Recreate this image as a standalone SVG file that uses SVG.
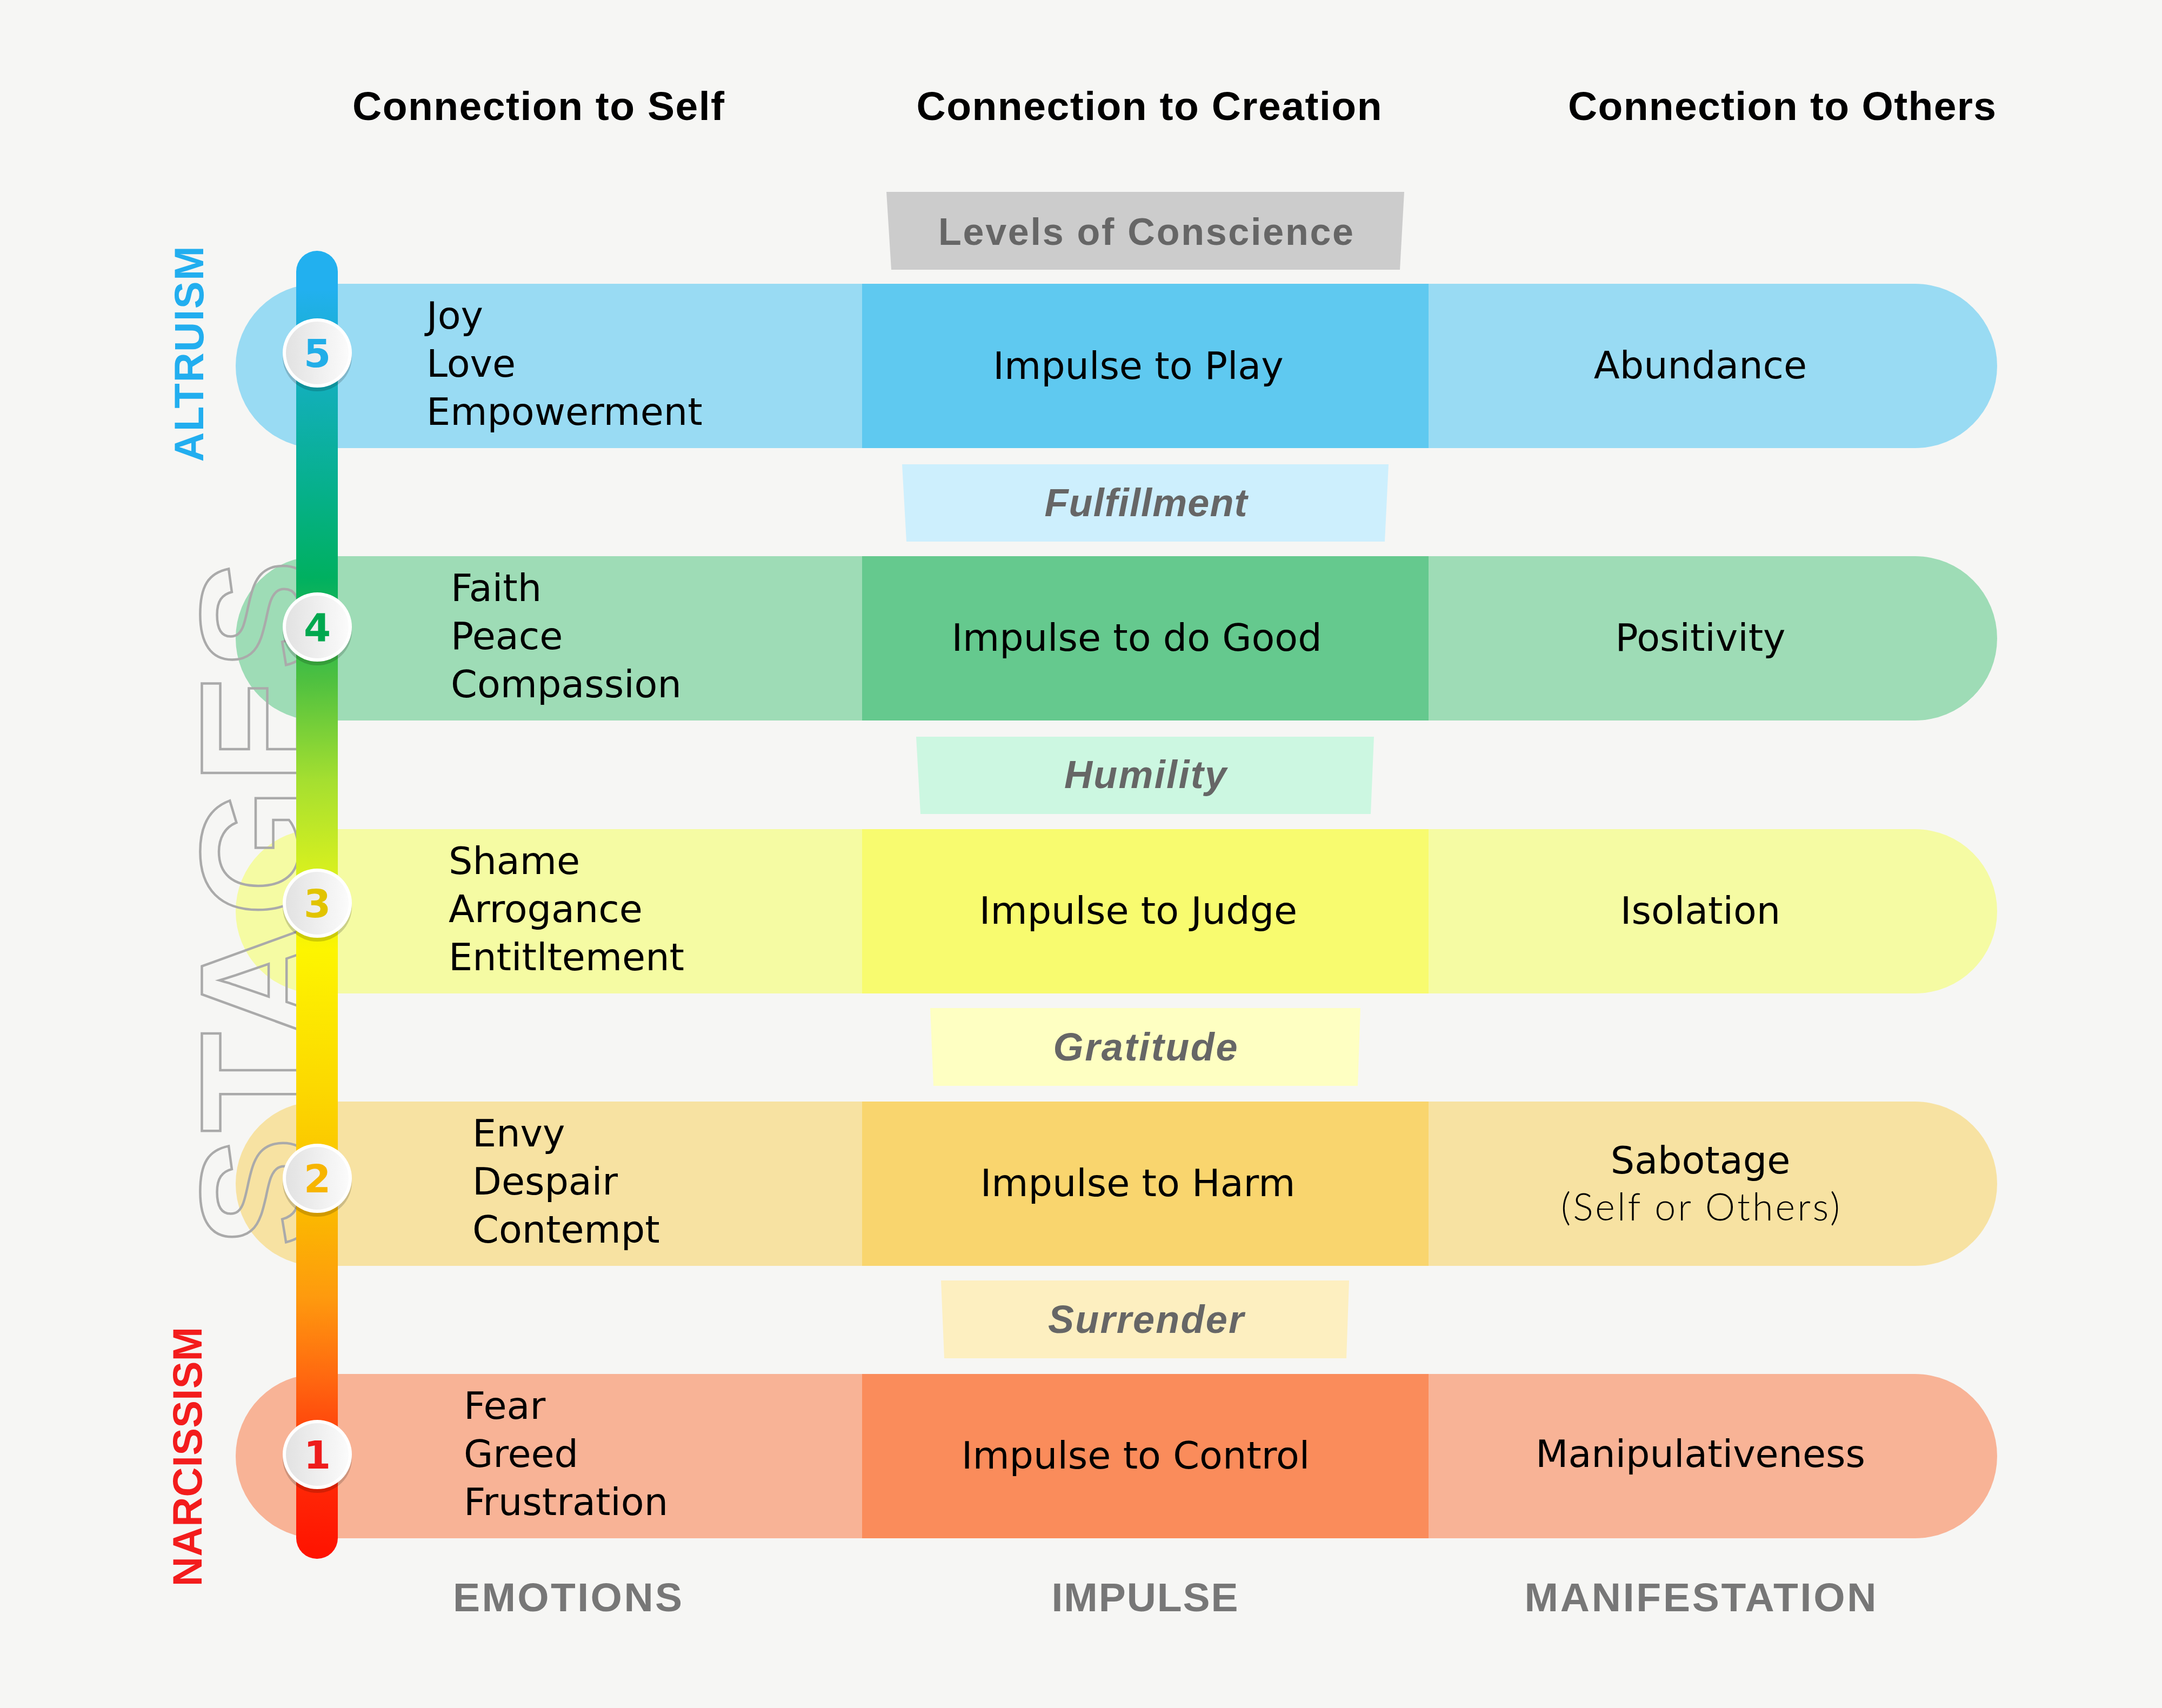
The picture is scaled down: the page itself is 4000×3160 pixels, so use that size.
<svg xmlns="http://www.w3.org/2000/svg" width="4000" height="3160" viewBox="0 0 4000 3160">
<defs>
<style>
.hdr{font-family:"Liberation Sans",Arial,sans-serif;font-weight:bold;font-size:75px;fill:#000;text-anchor:middle}
.foot{font-family:"Liberation Sans",Arial,sans-serif;font-weight:bold;font-size:75px;fill:#777;text-anchor:middle}
.body{font-family:"DejaVu Sans",sans-serif;font-size:70px;fill:#000}
.mid{font-family:"DejaVu Sans",sans-serif;font-size:70px;fill:#000;text-anchor:middle}
.light{font-family:"Lato","Roboto","DejaVu Sans",sans-serif;font-weight:300;font-size:70px;fill:#000;text-anchor:middle}
.ban{font-family:"Liberation Sans",Arial,sans-serif;font-weight:bold;font-style:italic;font-size:72px;fill:#666;text-anchor:middle}
.lvl{font-family:"Liberation Sans",Arial,sans-serif;font-weight:bold;font-size:70px;fill:#666;text-anchor:middle}
.side{font-family:"Liberation Sans",Arial,sans-serif;font-weight:bold;font-size:76px;text-anchor:middle}
.stages{font-family:"Liberation Sans",Arial,sans-serif;font-weight:bold;font-size:306px;fill:none;stroke:#aaaaaa;stroke-width:4.5;text-anchor:middle}
.num{font-family:"DejaVu Sans",sans-serif;font-weight:bold;font-size:72px;text-anchor:middle}
.shadow{fill:#000;opacity:0.17}
.ring{fill:#ffffff}
.face{fill:url(#faceGrad)}
</style>
<linearGradient id="barGrad" x1="0" y1="464" x2="0" y2="2884" gradientUnits="userSpaceOnUse">
<stop offset="0" stop-color="#22b0ef"/>
<stop offset="0.03" stop-color="#22b0ef"/>
<stop offset="0.107" stop-color="#12afb8"/>
<stop offset="0.185" stop-color="#06b08a"/>
<stop offset="0.25" stop-color="#00b060"/>
<stop offset="0.327" stop-color="#4dc040"/>
<stop offset="0.405" stop-color="#a5df30"/>
<stop offset="0.47" stop-color="#d4ef20"/>
<stop offset="0.535" stop-color="#fdf500"/>
<stop offset="0.638" stop-color="#fcd900"/>
<stop offset="0.735" stop-color="#fbb900"/>
<stop offset="0.80" stop-color="#fe9a0e"/>
<stop offset="0.865" stop-color="#ff6510"/>
<stop offset="0.93" stop-color="#ff2d08"/>
<stop offset="1" stop-color="#ff1200"/>
</linearGradient>
<linearGradient id="faceGrad" x1="0" y1="0" x2="1" y2="0">
<stop offset="0" stop-color="#e2e2e2"/>
<stop offset="1" stop-color="#fbfbfb"/>
</linearGradient>
</defs>
<rect x="0" y="0" width="4000" height="3160" fill="#f6f6f4"/>

<g id="headers">
<text class="hdr" x="996" y="222" textLength="688">Connection to Self</text>
<text class="hdr" x="2126" y="222" textLength="861">Connection to Creation</text>
<text class="hdr" x="3297" y="222" textLength="792">Connection to Others</text>
</g>

<g id="row5">
<rect x="436" y="525" width="3259" height="304" rx="152" fill="#99dbf3"/>
<rect x="1595" y="525" width="1048" height="304" fill="#5fc9f0"/>
<text class="body" x="789" y="608">Joy</text>
<text class="body" x="789" y="697">Love</text>
<text class="body" x="789" y="786">Empowerment</text>
<text class="mid" x="2106" y="701">Impulse to Play</text>
<text class="mid" x="3146" y="700">Abundance</text>
</g>
<g id="row4">
<rect x="436" y="1029" width="3259" height="304" rx="152" fill="#9edcb6"/>
<rect x="1595" y="1029" width="1048" height="304" fill="#65c98e"/>
<text class="body" x="834" y="1112">Faith</text>
<text class="body" x="834" y="1201">Peace</text>
<text class="body" x="834" y="1290">Compassion</text>
<text class="mid" x="2103" y="1204">Impulse to do Good</text>
<text class="mid" x="3146" y="1204">Positivity</text>
</g>
<g id="row3">
<rect x="436" y="1534" width="3259" height="304" rx="152" fill="#f5fba3"/>
<rect x="1595" y="1534" width="1048" height="304" fill="#f8fb6f"/>
<text class="body" x="830" y="1617">Shame</text>
<text class="body" x="830" y="1706">Arrogance</text>
<text class="body" x="830" y="1795">Entitltement</text>
<text class="mid" x="2106" y="1709">Impulse to Judge</text>
<text class="mid" x="3146" y="1709">Isolation</text>
</g>
<g id="row2">
<rect x="436" y="2038" width="3259" height="304" rx="152" fill="#f7e2a2"/>
<rect x="1595" y="2038" width="1048" height="304" fill="#f9d56e"/>
<text class="body" x="874" y="2121">Envy</text>
<text class="body" x="874" y="2210">Despair</text>
<text class="body" x="874" y="2299">Contempt</text>
<text class="mid" x="2105" y="2213">Impulse to Harm</text>
<text class="mid" x="3146" y="2171">Sabotage</text>
<text class="light" x="3146" y="2258" textLength="516">(Self or Others)</text>
</g>
<g id="row1">
<rect x="436" y="2542" width="3259" height="304" rx="152" fill="#f8b396"/>
<rect x="1595" y="2542" width="1048" height="304" fill="#fa8c5b"/>
<text class="body" x="858" y="2625">Fear</text>
<text class="body" x="858" y="2714">Greed</text>
<text class="body" x="858" y="2803">Frustration</text>
<text class="mid" x="2101" y="2717">Impulse to Control</text>
<text class="mid" x="3146" y="2714">Manipulativeness</text>
</g>

<g id="banner-levels">
<polygon points="1640,355 2598,355 2590,499 1649,499" fill="#cccccc"/>
<text class="lvl" x="2120" y="453" textLength="768">Levels of Conscience</text>
</g>
<g id="banner-fulfillment">
<polygon points="1669,859 2569,859 2562,1002 1677,1002" fill="#cdeffd"/>
<text class="ban" x="2120" y="955" textLength="375">Fulfillment</text>
</g>
<g id="banner-humility">
<polygon points="1695,1363 2542,1363 2536,1506 1703,1506" fill="#ccf7e1"/>
<text class="ban" x="2119" y="1458" textLength="300">Humility</text>
</g>
<g id="banner-gratitude">
<polygon points="1721,1865 2517,1865 2512,2009 1727,2009" fill="#feffc2"/>
<text class="ban" x="2119" y="1962" textLength="341">Gratitude</text>
</g>
<g id="banner-surrender">
<polygon points="1741,2369 2496,2369 2491,2513 1747,2513" fill="#fdefc0"/>
<text class="ban" x="2120" y="2466" textLength="362">Surrender</text>
</g>

<g id="stages-label">
<text class="stages" transform="translate(584,1671) rotate(-90)" x="0" y="0" textLength="1272">STAGES</text>
</g>

<g id="side-labels">
<text class="side" fill="#22aeef" transform="translate(376,655) rotate(-90)" x="0" y="0" textLength="399">ALTRUISM</text>
<text class="side" fill="#f31c1c" transform="translate(373,2695) rotate(-90)" x="0" y="0" textLength="480">NARCISSISM</text>
</g>

<g id="scale-bar">
<rect x="548" y="464" width="77" height="2420" rx="38.5" fill="url(#barGrad)"/>
</g>

<g id="badge5">
<circle class="shadow" cx="587" cy="660" r="64"/>
<circle class="ring" cx="587" cy="653" r="64"/>
<circle class="face" cx="587" cy="653" r="58"/>
<text class="num" x="587" y="679" fill="#22aee8">5</text>
</g>
<g id="badge4">
<circle class="shadow" cx="587" cy="1167" r="64"/>
<circle class="ring" cx="587" cy="1160" r="64"/>
<circle class="face" cx="587" cy="1160" r="58"/>
<text class="num" x="587" y="1186" fill="#00a84f">4</text>
</g>
<g id="badge3">
<circle class="shadow" cx="587" cy="1678" r="64"/>
<circle class="ring" cx="587" cy="1671" r="64"/>
<circle class="face" cx="587" cy="1671" r="58"/>
<text class="num" x="587" y="1697" fill="#e2c400">3</text>
</g>
<g id="badge2">
<circle class="shadow" cx="587" cy="2187" r="64"/>
<circle class="ring" cx="587" cy="2180" r="64"/>
<circle class="face" cx="587" cy="2180" r="58"/>
<text class="num" x="587" y="2206" fill="#f7b500">2</text>
</g>
<g id="badge1">
<circle class="shadow" cx="587" cy="2698" r="64"/>
<circle class="ring" cx="587" cy="2691" r="64"/>
<circle class="face" cx="587" cy="2691" r="58"/>
<text class="num" x="587" y="2717" fill="#ee1c1c">1</text>
</g>

<g id="footers">
<text class="foot" x="1050" y="2981" textLength="424">EMOTIONS</text>
<text class="foot" x="2118" y="2981" textLength="345">IMPULSE</text>
<text class="foot" x="3146" y="2981" textLength="651">MANIFESTATION</text>
</g>
<g id="connectors"></g>
</svg>
